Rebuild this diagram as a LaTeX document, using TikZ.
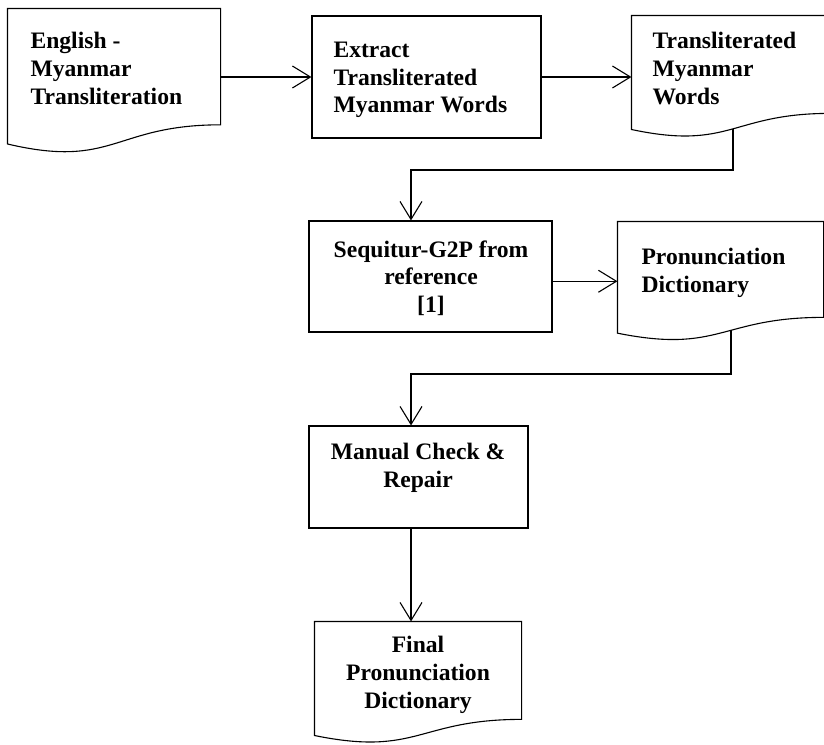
\documentclass[tikz,border=0pt]{standalone}
\usepackage{fontspec}
\setmainfont{Liberation Serif}
\usetikzlibrary{arrows.meta,calc}
\newcommand\mydocshape[1]{%
  \draw (#1.north west) -- (#1.north east) -- ($(#1.north east)!0.802!(#1.south east)$)
    .. controls ($(#1.north)!0.802!(#1.south)$) and ($(#1.north)!1.1075!(#1.south)$)
    .. ($(#1.north west)!0.934!(#1.south west)$) -- cycle;}
\begin{document}
\begin{tikzpicture}[x=1pt,y=-1pt,
  line width=1.1pt,
  box/.style={draw, rectangle, inner sep=0pt},
  docarea/.style={rectangle, inner sep=0pt, draw=none},
  txt/.style={inner sep=0pt, font=\bfseries\fontsize{23.6}{27.7}\selectfont},
  arr/.style={-{Straight Barb[length=18pt,width=22pt]}}]
\useasboundingbox (0,0) rectangle (824,744);

% shapes
\node[docarea, minimum width=212pt, minimum height=144pt] (doc1) at (114,81) {};
\mydocshape{doc1}
\node[box, minimum width=229pt, minimum height=122pt] (extract) at (426.5,77) {};
\node[docarea, minimum width=198pt, minimum height=121pt] (doc2) at (731,76.5) {};
\mydocshape{doc2}
\node[box, minimum width=243pt, minimum height=111pt] (seq) at (430.5,276.5) {};
\node[docarea, minimum width=205pt, minimum height=118.5pt] (pron) at (720.5,281.25) {};
\mydocshape{pron}
\node[box, minimum width=219pt, minimum height=102pt] (manual) at (418.5,477) {};
\node[docarea, minimum width=206pt, minimum height=121pt] (final) at (418,682.5) {};
\mydocshape{final}

% texts
\node[txt, anchor=north west, align=left] (doc1t) at (30,32) {English -\\Myanmar\\Transliteration};
\node[txt, anchor=north west, align=left] (extractt) at (333,41.5) {Extract\\Transliterated\\Myanmar Words};
\node[txt, anchor=north west, align=left] (doc2t) at (652,32) {Transliterated\\Myanmar\\Words};
\node[txt, anchor=north, align=center] (seqt) at (431,240) {Sequitur-G2P from\\reference\\{[1]}};
\node[txt, anchor=north west, align=left] (pront) at (641,248) {Pronunciation\\Dictionary};
\node[txt, anchor=north, align=center] (manualt) at (418,443) {Manual Check \&\\Repair};
\node[txt, anchor=north, align=center] (finalt) at (418,636) {Final\\Pronunciation\\Dictionary};

% connectors
\draw[arr] (extract.west -| doc1.east) -- (extract.west);
\draw[arr] (extract.east) -- (extract.east -| doc2.west);
\coordinate (d2out) at (733,129);
\coordinate (seqin) at ($(seq.north west)!0.42!(seq.north east)$);
\draw[arr] (d2out) -- ++(0,41) -| (seqin);
\draw[arr] (seq.east |- pron.west) -- (pron.west);
\coordinate (pronout) at (731,330);
\coordinate (manin) at ($(manual.north west)!0.466!(manual.north east)$);
\draw[arr] (pronout) -- ++(0,44) -| (manin);
\draw[arr] (manual.south -| manin) -- (final.north -| manin);
\end{tikzpicture}
\end{document}
